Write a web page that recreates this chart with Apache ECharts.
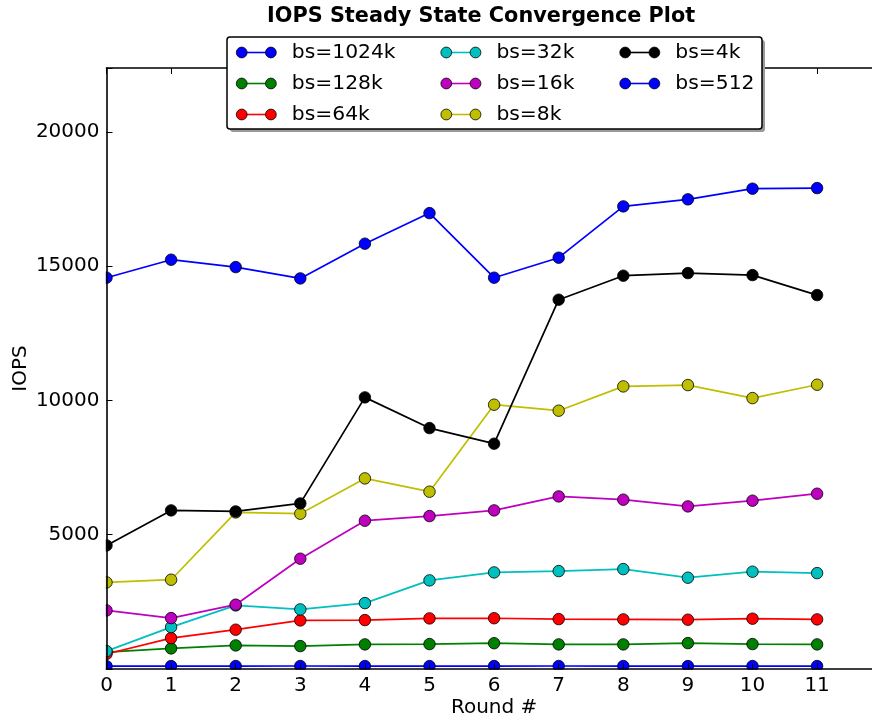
<!DOCTYPE html>
<html>
<head>
<meta charset="utf-8">
<script src="https://cdn.jsdelivr.net/npm/echarts@6/dist/echarts.min.js"></script>
<style>html,body{margin:0;padding:0;background:#fff}#c{width:872px;height:720px}</style>
</head>
<body>
<div id="c"></div>
<script>
var rounds = [0,1,2,3,4,5,6,7,8,9,10,11];
var xTicks = [0,1,2,3,4,5,6,7,8,9,10,11];
var yTicks = [5000,10000,15000,20000];
var seriesNames = ['bs=1024k','bs=128k','bs=64k','bs=32k','bs=16k','bs=8k','bs=4k','bs=512'];
var seriesColors = ['#0000ff','#008000','#ff0000','#00bfbf','#bf00bf','#bfbf00','#000000','#0000ff'];
var bs1024k = [14568,15238,14963,14542,15834,16973,14568,15313,17223,17484,17882,17904];
var bs128k  = [630,767,879,853,916,928,960,916,916,964,928,916];
var bs64k   = [560,1150,1463,1809,1821,1884,1890,1858,1847,1835,1873,1847];
var bs32k   = [667,1560,2368,2219,2454,3299,3596,3645,3719,3399,3622,3570];
var bs16k   = [2182,1895,2394,4106,5521,5693,5905,6426,6303,6054,6266,6526];
var bs8k    = [3224,3324,5830,5782,7096,6601,9840,9617,10521,10570,10086,10584];
var bs4k    = [4602,5905,5867,6165,10112,8969,8388,13749,14642,14739,14665,13920];
var bs512   = [105,108,110,112,110,108,110,112,110,108,110,110];
var seriesValues = [bs1024k,bs128k,bs64k,bs32k,bs16k,bs8k,bs4k,bs512];
var legendCols = [['bs=1024k','bs=128k','bs=64k'],['bs=32k','bs=16k','bs=8k'],['bs=4k','bs=512']];

var FONT = 'DejaVu Sans';
var chart = echarts.init(document.getElementById('c'), null, {renderer:'canvas'});

var series = seriesNames.map(function(n,i){
  return {
    name:n, type:'line', xAxisIndex:0, yAxisIndex:0,
    data: rounds.map(function(r,j){return [r, seriesValues[i][j]];}),
    symbol:'circle', symbolSize:11.5, showAllSymbol:true, clip:true, z:2+i*0.01,
    itemStyle:{color:seriesColors[i], borderColor:'#000', borderWidth:0.8},
    lineStyle:{color:seriesColors[i], width:1.7},
    emphasis:{disabled:true}, animation:false
  };
});

var lineIcon = 'path://M0,0M51,11M5.5,4.7H34.7V6.3H5.5Z';
var circIcon = 'path://M0,0M51,11M0.1,5.5A5.4,5.4,0,1,0,10.9,5.5A5.4,5.4,0,1,0,0.1,5.5ZM29.3,5.5A5.4,5.4,0,1,0,40.1,5.5A5.4,5.4,0,1,0,29.3,5.5Z';
var colLefts = [235.8, 440.4, 619.3];
var legends = [];
legendCols.forEach(function(col,ci){
  legends.push({
    data: col, orient:'vertical', left: colLefts[ci], top: 42.5, padding:0,
    itemWidth:51, itemHeight:11, itemGap:11, icon: lineIcon, z:11,
    itemStyle:{borderWidth:0},
    textStyle:{fontFamily:FONT, fontSize:20.3, color:'#000', lineHeight:20}
  });
  legends.push({
    data: col, orient:'vertical', left: colLefts[ci], top: 42.5, padding:0,
    itemWidth:51, itemHeight:11, itemGap:11, icon: circIcon, z:12,
    itemStyle:{borderWidth:0.8, borderColor:'#000'},
    textStyle:{fontFamily:FONT, fontSize:20.3, color:'rgba(0,0,0,0)', lineHeight:20}
  });
});

var option = {
  animation:false,
  backgroundColor:'#fff',
  title:{text:'IOPS Steady State Convergence Plot', left:267, top:6, padding:0,
    textStyle:{fontFamily:FONT, fontSize:20.8, fontWeight:'bold', color:'#000'}},
  grid:{left:106.5, top:68, width:775.2, height:601, containLabel:false, outerBoundsMode:'none'},
  legend: legends,
  xAxis:[{
    type:'value', min:0, max:12, interval:1, position:'bottom', z:4,
    name:'Round #', nameLocation:'middle', nameGap:29, nameMoveOverlap:false,
    nameTextStyle:{fontFamily:FONT, fontSize:20, color:'#000'},
    axisLine:{show:true, onZero:false, lineStyle:{color:'#000', width:1.6}},
    axisTick:{show:true, inside:true, length:6, lineStyle:{color:'#000', width:1}},
    axisLabel:{fontFamily:FONT, fontSize:20, color:'#000', margin:7,
      formatter:function(v){return xTicks.indexOf(v)>=0 ? String(v) : '';}},
    splitLine:{show:false}
  },{
    type:'value', min:0, max:12, interval:1, position:'top', z:4,
    axisLine:{show:true, onZero:false, lineStyle:{color:'#000', width:1.6}},
    axisTick:{show:true, inside:true, length:6, lineStyle:{color:'#000', width:1}},
    axisLabel:{show:false}, splitLine:{show:false}
  }],
  yAxis:[{
    type:'value', min:0, max:22375, interval:5000, z:4,
    name:'IOPS', nameLocation:'middle', nameGap:76, nameRotate:90, nameMoveOverlap:false,
    nameTextStyle:{fontFamily:FONT, fontSize:20, color:'#000'},
    axisLine:{show:true, onZero:false, lineStyle:{color:'#000', width:1.6}},
    axisTick:{show:true, inside:true, length:6, lineStyle:{color:'#000', width:1}},
    axisLabel:{fontFamily:FONT, fontSize:20, color:'#000', margin:7,
      formatter:function(v){return yTicks.indexOf(v)>=0 ? String(v) : '';}},
    splitLine:{show:false}
  }],
  graphic:[
    {type:'rect', z:3, silent:true, shape:{x:99, y:60, width:6.8, height:620}, style:{fill:'#fff'}},
    {type:'rect', z:3, silent:true, shape:{x:99, y:669.8, width:780, height:5.5}, style:{fill:'#fff'}},
    {type:'rect', z:10, silent:true, shape:{x:230, y:40, width:535, height:92, r:3}, style:{fill:'#9a9a9a'}},
    {type:'rect', z:10.5, silent:true, shape:{x:227, y:37, width:535, height:92, r:3}, style:{fill:'#fff', stroke:'#000', lineWidth:1.5}}
  ],
  series: series
};
chart.setOption(option);
</script>
</body>
</html>
